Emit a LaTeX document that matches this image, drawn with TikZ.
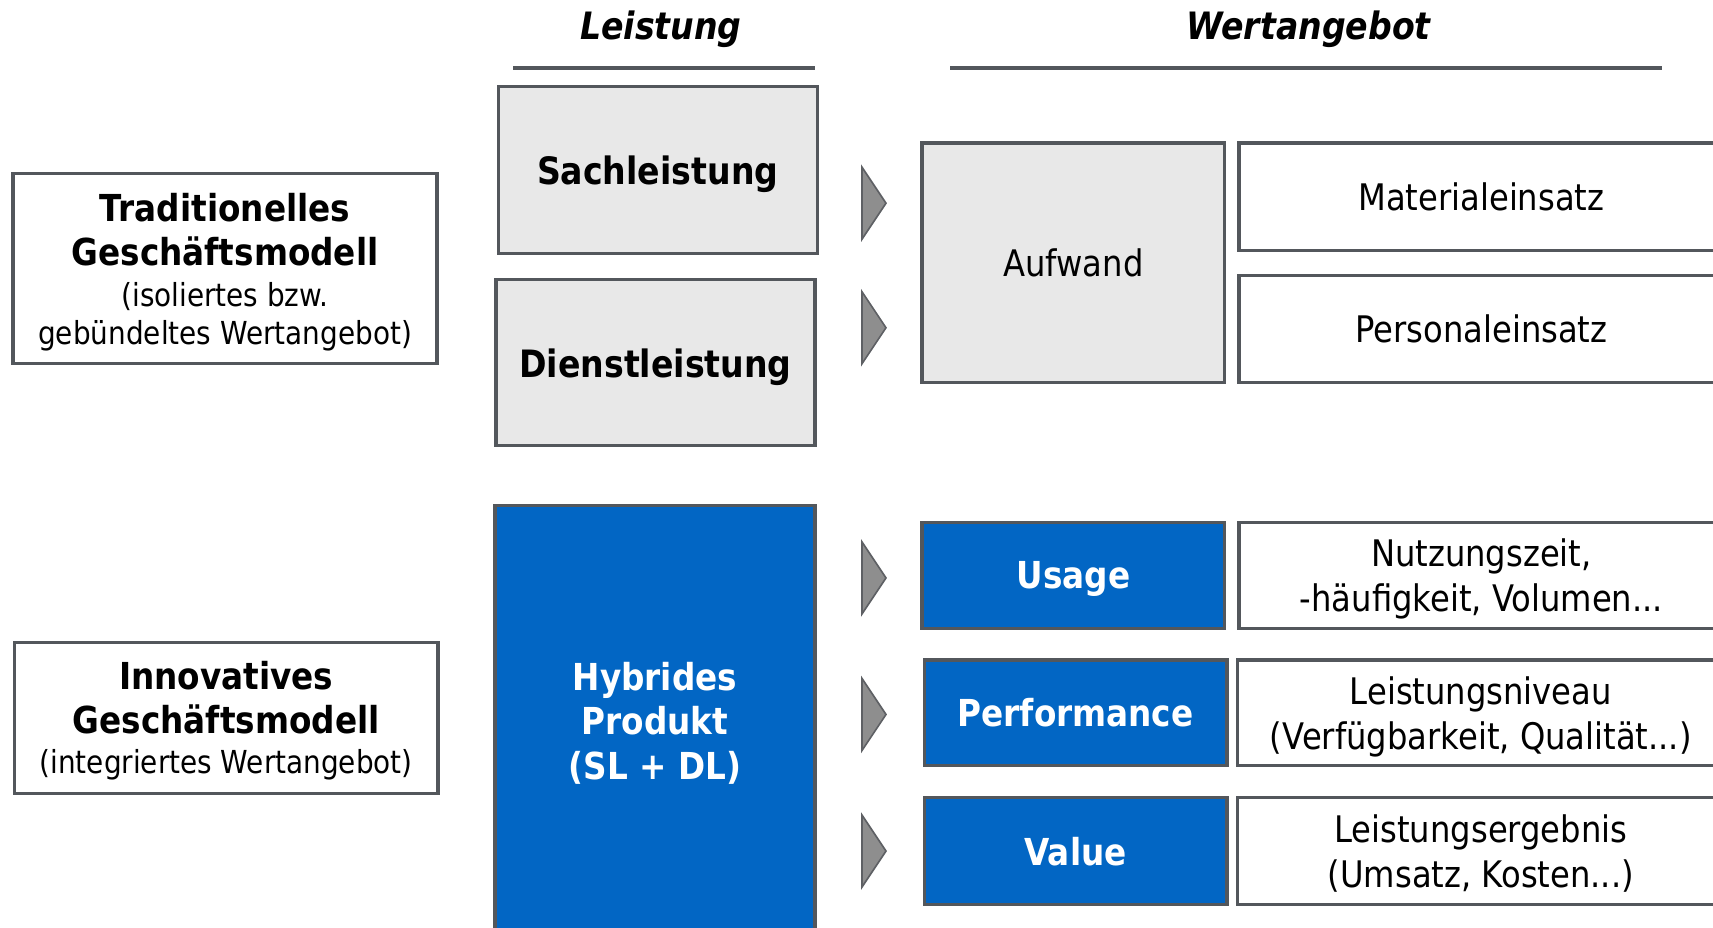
\documentclass[tikz,border=0pt]{standalone}
\usepackage{fontspec}
\setmainfont{DejaVu Sans}[FakeStretch=0.88]
\definecolor{frame}{HTML}{53575C}
\definecolor{lightfill}{HTML}{E8E8E8}
\definecolor{hpblue}{HTML}{0266C4}
\definecolor{chevfill}{HTML}{8E8E8E}
\definecolor{chevline}{HTML}{5E6064}
\tikzset{
  box/.style={draw=frame, line width=3pt, rectangle, inner sep=0pt, align=center,
    text depth=0pt, font=\fontsize{33.5}{41}\selectfont},
  graybox/.style={box, fill=lightfill},
  bluebox/.style={box, fill=hpblue, text=white, font=\bfseries\fontsize{34}{41}\selectfont},
  whitebox/.style={box, fill=white},
  modelbox/.style={box, fill=white, font=\fontsize{29}{34}\selectfont},
  chev/.style={fill=chevfill, draw=chevline, line width=1.5pt, line join=miter},
  coltitle/.style={font=\bfseries\itshape\fontsize{34.5}{40}\selectfont, inner sep=0pt},
  colrule/.style={draw=frame, line width=4pt},
  bigtxt/.style={font=\bfseries\fontsize{34.5}{41}\selectfont},
}
\begin{document}
\begin{tikzpicture}[x=1pt, y=-1pt]
\useasboundingbox (0,0) rectangle (1568,849);

% column headings with their rules
\node[coltitle] (tl) at (605,27) {Leistung};
\node[coltitle] (tw) at (1198,27) {Wertangebot};
\coordinate (tlA) at (470,62); \coordinate (tlB) at (746,62);
\coordinate (twA) at (870,62); \coordinate (twB) at (1521,62);
\draw[colrule] (tlA) -- (tlB);
\draw[colrule] (twA) -- (twB);

% business models
\node[modelbox, minimum width=388, minimum height=174] (trad) at (206,246)
  {{\bfseries\fontsize{34}{41}\selectfont Traditionelles}\\[6pt]
   {\bfseries\fontsize{34}{41}\selectfont Geschäftsmodell}\\[4pt]
   (isoliertes bzw.\\gebündeltes Wertangebot)};
\node[modelbox, minimum width=388, minimum height=138] (innov) at (207,657)
  {{\bfseries\fontsize{34}{41}\selectfont Innovatives}\\[6pt]
   {\bfseries\fontsize{34}{41}\selectfont Geschäftsmodell}\\[3pt]
   (integriertes Wertangebot)};

% offerings
\node[graybox, bigtxt, minimum width=292, minimum height=153] (sach) at (602,155.5) {Sachleistung};
\node[graybox, bigtxt, minimum width=292, minimum height=152] (dienst) at (600,332) {Dienstleistung};
\node[bluebox, minimum width=293, minimum height=394] (hybrid) at (599.5,660) {};
\node[text=white, font=\bfseries\fontsize{34}{41}\selectfont, align=center, inner sep=0pt]
  (hybridtext) at (599.5,662) {Hybrides\\Produkt\\(SL + DL)};

% value propositions
\node[graybox, minimum width=277, minimum height=219] (aufwand) at (982.5,240.5) {Aufwand};
\node[whitebox, minimum width=444, minimum height=98] (material) at (1356,180) {Materialeinsatz};
\node[whitebox, minimum width=444, minimum height=98] (personal) at (1356,301) {Personaleinsatz};

\node[bluebox, minimum width=277, minimum height=97] (usage) at (982.5,526.5) {Usage};
\node[whitebox, minimum width=444, minimum height=97] (nutz) at (1356,526.5)
  {Nutzungszeit,\\-häufigkeit, Volumen...};
\node[bluebox, minimum width=277, minimum height=97] (perf) at (984.5,652.5) {Performance};
\node[whitebox, minimum width=445, minimum height=97] (niveau) at (1355.5,652.5)
  {Leistungsniveau\\(Verfügbarkeit, Qualität...)};
\node[bluebox, minimum width=277, minimum height=98] (value) at (984.5,779) {Value};
\node[whitebox, minimum width=445, minimum height=98] (ergebnis) at (1355.5,779)
  {Leistungsergebnis\\(Umsatz, Kosten...)};

% chevrons between offering and value proposition
\foreach \cy in {186,300,529,654,779}{
  \draw[chev] (789,\cy-33) -- (811,\cy) -- (789,\cy+33) -- cycle;
}
\end{tikzpicture}
\end{document}
